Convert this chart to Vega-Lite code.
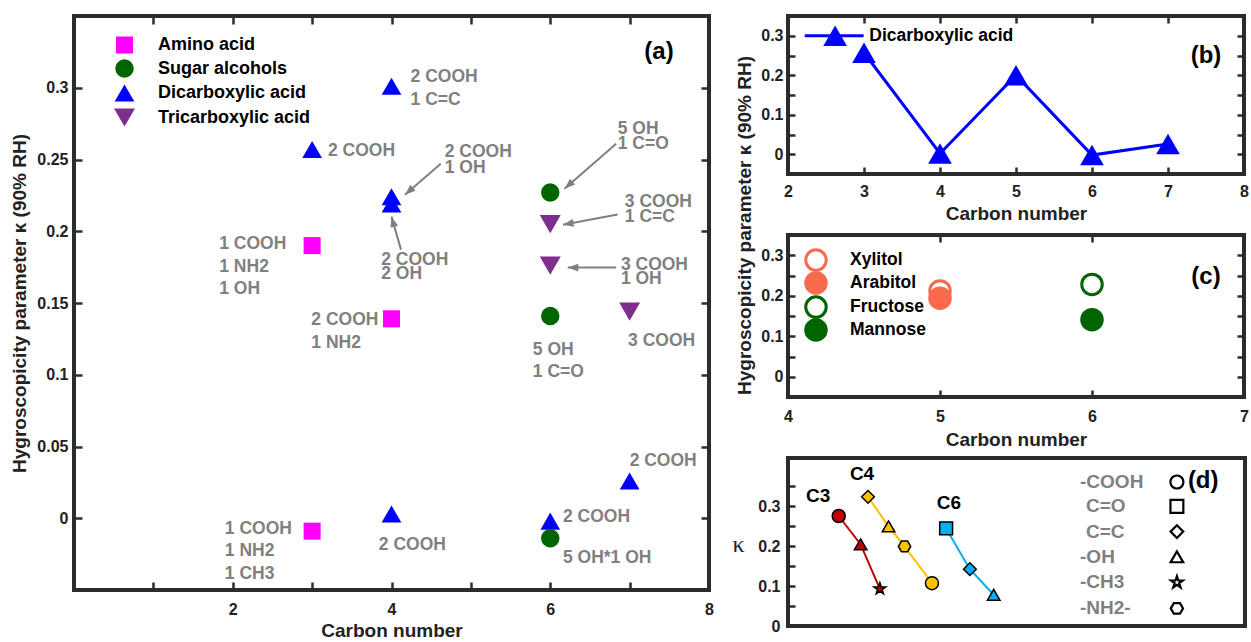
{
  "$schema": "https://vega.github.io/schema/vega-lite/v6.json",
  "background": "white",
  "padding": {"left": 8, "top": 12, "right": 2, "bottom": 1},
  "autosize": {"type": "pad"},
  "bounds": "flush",
  "spacing": 79,
  "config": {
    "font": "Liberation Sans",
    "view": {"stroke": "#2b2b2b", "strokeWidth": 4},
    "axis": {
      "domain": false, "grid": false, "ticks": false, "tickColor": "#2b2b2b", "tickWidth": 2.5, "tickSize": 8,
      "labelFont": "Liberation Sans", "labelFontSize": 16, "labelFontWeight": "bold", "labelColor": "#222222",
      "labelPadding": 6, "labelFlush": false, "labelOverlap": false,
      "titleFont": "Liberation Sans", "titleFontSize": 19, "titleFontWeight": "bold", "titleColor": "#222222"
    },
    "legend": {"labelFont": "Liberation Sans", "labelFontWeight": "bold", "labelFontSize": 18, "labelColor": "black"},
    "text": {"font": "Liberation Sans", "fontWeight": "bold"}
  },
  "resolve": {
    "scale": {"color": "independent", "shape": "independent", "size": "independent", "fill": "independent", "stroke": "independent"},
    "legend": {"color": "independent", "shape": "independent", "size": "independent", "fill": "independent", "stroke": "independent"}
  },
  "hconcat": [
    {
      "width": 635,
      "height": 574,
      "view": {"stroke": "#2b2b2b", "strokeWidth": 4},
      "layer": [
        {
          "data": {"values": [
            {"cat": "Amino acid", "c": 3, "k": 0.19},
            {"cat": "Amino acid", "c": 4, "k": 0.139},
            {"cat": "Amino acid", "c": 3, "k": -0.009},
            {"cat": "Dicarboxylic acid", "c": 4, "k": 0.301},
            {"cat": "Dicarboxylic acid", "c": 3, "k": 0.257},
            {"cat": "Dicarboxylic acid", "c": 4, "k": 0.224},
            {"cat": "Dicarboxylic acid", "c": 4, "k": 0.219},
            {"cat": "Dicarboxylic acid", "c": 4, "k": 0.003},
            {"cat": "Dicarboxylic acid", "c": 6, "k": -0.002},
            {"cat": "Dicarboxylic acid", "c": 7, "k": 0.026},
            {"cat": "Sugar alcohols", "c": 6, "k": 0.227},
            {"cat": "Sugar alcohols", "c": 6, "k": 0.141},
            {"cat": "Sugar alcohols", "c": 6, "k": -0.014},
            {"cat": "Tricarboxylic acid", "c": 6, "k": 0.205},
            {"cat": "Tricarboxylic acid", "c": 6, "k": 0.176},
            {"cat": "Tricarboxylic acid", "c": 7, "k": 0.144}
          ]},
          "mark": {"type": "point", "filled": true, "opacity": 1},
          "encoding": {
            "x": {"field": "c", "type": "quantitative", "scale": {"domain": [0, 8], "nice": false, "zero": false},
                  "axis": {"orient": "bottom", "values": [2, 4, 6, 8], "title": "Carbon number", "labelPadding": 11, "titlePadding": 4}},
            "y": {"field": "k", "type": "quantitative", "scale": {"domain": [-0.05, 0.35], "nice": false, "zero": false},
                  "axis": {"orient": "left", "values": [0, 0.05, 0.1, 0.15, 0.2, 0.25, 0.3], "format": "~g", "title": "Hygroscopicity parameter κ (90% RH)", "titlePadding": 7}},
            "shape": {"field": "cat", "type": "nominal", "scale": {"domain": ["Amino acid", "Sugar alcohols", "Dicarboxylic acid", "Tricarboxylic acid"], "range": ["square", "circle", "triangle-up", "triangle-down"]},
                      "legend": {"orient": "none", "legendX": 40, "legendY": 20, "title": null, "labelOffset": 23, "rowPadding": 5, "symbolStrokeWidth": 0}},
            "color": {"field": "cat", "type": "nominal", "scale": {"domain": ["Amino acid", "Sugar alcohols", "Dicarboxylic acid", "Tricarboxylic acid"], "range": ["#ff00ff", "#006400", "#0000ff", "#7e2f8e"]},
                      "legend": {"orient": "none", "legendX": 40, "legendY": 20, "title": null, "labelOffset": 23, "rowPadding": 5, "symbolStrokeWidth": 0}},
            "size": {"field": "cat", "type": "nominal", "scale": {"domain": ["Amino acid", "Sugar alcohols", "Dicarboxylic acid", "Tricarboxylic acid"], "range": [290, 440, 560, 560]},
                     "legend": {"orient": "none", "legendX": 40, "legendY": 20, "title": null, "labelOffset": 23, "rowPadding": 5, "symbolStrokeWidth": 0}}
          }
        },
        {
          "data": {"values": [{"c": 1, "k": 0}]},
          "mark": {"type": "point", "opacity": 0},
          "encoding": {
            "x": {"field": "c", "type": "quantitative", "axis": {"orient": "top", "offset": -574, "ticks": true, "values": [1, 2, 3, 4, 5, 6, 7], "labels": false, "title": null}},
            "y": {"field": "k", "type": "quantitative", "axis": {"orient": "left", "offset": -635, "ticks": true, "values": [0, 0.05, 0.1, 0.15, 0.2, 0.25, 0.3], "labels": false, "title": null}}
          }
        },
        {
          "data": {"values": [{"c": 1, "k": 0}]},
          "mark": {"type": "point", "opacity": 0},
          "encoding": {
            "x": {"field": "c", "type": "quantitative", "axis": {"orient": "bottom", "offset": -574, "ticks": true, "values": [1, 2, 3, 4, 5, 6, 7], "labels": false, "title": null}},
            "y": {"field": "k", "type": "quantitative", "axis": {"orient": "right", "offset": -635, "ticks": true, "values": [0, 0.05, 0.1, 0.15, 0.2, 0.25, 0.3], "labels": false, "title": null}}
          }
        },
        {
          "data": {"values": [
            {"x1": 4.62, "y1": 0.2471, "x2": 4.17, "y2": 0.2255, "ang": 229},
            {"x1": 6.83, "y1": 0.261, "x2": 6.18, "y2": 0.2297, "ang": 229},
            {"x1": 6.85, "y1": 0.2116, "x2": 6.16, "y2": 0.2046, "ang": 260},
            {"x1": 6.83, "y1": 0.1747, "x2": 6.22, "y2": 0.1747, "ang": 270},
            {"x1": 4.12, "y1": 0.1872, "x2": 4.0, "y2": 0.2102, "ang": 345}
          ]},
          "layer": [
            {
              "mark": {"type": "rule", "color": "#808080", "strokeWidth": 2},
              "encoding": {
                "x": {"field": "x1", "type": "quantitative", "axis": null},
                "y": {"field": "y1", "type": "quantitative", "axis": null},
                "x2": {"field": "x2"},
                "y2": {"field": "y2"}
              }
            },
            {
              "mark": {"type": "point", "shape": "M0,0L0.55,1.5L-0.55,1.5Z", "filled": true, "color": "#808080", "opacity": 1, "size": 200},
              "encoding": {
                "x": {"field": "x2", "type": "quantitative", "axis": null},
                "y": {"field": "y2", "type": "quantitative", "axis": null},
                "angle": {"field": "ang", "type": "quantitative", "scale": null}
              }
            }
          ]
        },
        {
          "data": {"values": [
            {"x": 4.24, "y": 0.3077, "t": "2 COOH"},
            {"x": 4.24, "y": 0.2916, "t": "1 C=C"},
            {"x": 3.2, "y": 0.256, "t": "2 COOH"},
            {"x": 4.67, "y": 0.2555, "t": "2 COOH"},
            {"x": 4.67, "y": 0.2444, "t": "1 OH"},
            {"x": 6.85, "y": 0.2715, "t": "5 OH"},
            {"x": 6.85, "y": 0.261, "t": "1 C=O"},
            {"x": 6.94, "y": 0.2206, "t": "3 COOH"},
            {"x": 6.94, "y": 0.2102, "t": "1 C=C"},
            {"x": 6.89, "y": 0.1768, "t": "3 COOH"},
            {"x": 6.89, "y": 0.1664, "t": "1 OH"},
            {"x": 3.87, "y": 0.18, "t": "2 COOH"},
            {"x": 3.87, "y": 0.17, "t": "2 OH"},
            {"x": 1.83, "y": 0.1914, "t": "1 COOH"},
            {"x": 1.83, "y": 0.1754, "t": "1 NH2"},
            {"x": 1.83, "y": 0.16, "t": "1 OH"},
            {"x": 2.99, "y": 0.1385, "t": "2 COOH"},
            {"x": 2.99, "y": 0.1218, "t": "1 NH2"},
            {"x": 5.78, "y": 0.117, "t": "5 OH"},
            {"x": 5.78, "y": 0.1016, "t": "1 C=O"},
            {"x": 6.98, "y": 0.1232, "t": "3 COOH"},
            {"x": 7.0, "y": 0.0397, "t": "2 COOH"},
            {"x": 6.16, "y": 0.0007, "t": "2 COOH"},
            {"x": 6.16, "y": -0.0278, "t": "5 OH*1 OH"},
            {"x": 3.84, "y": -0.0188, "t": "2 COOH"},
            {"x": 1.9, "y": -0.0077, "t": "1 COOH"},
            {"x": 1.9, "y": -0.023, "t": "1 NH2"},
            {"x": 1.9, "y": -0.039, "t": "1 CH3"}
          ]},
          "mark": {"type": "text", "align": "left", "baseline": "middle", "fontSize": 17.5, "color": "#808080"},
          "encoding": {
            "x": {"field": "x", "type": "quantitative", "axis": null},
            "y": {"field": "y", "type": "quantitative", "axis": null},
            "text": {"field": "t"}
          }
        },
        {
          "data": {"values": [{"x": 7.37, "y": 0.325, "t": "(a)"}]},
          "mark": {"type": "text", "align": "center", "baseline": "middle", "fontSize": 24, "color": "black"},
          "encoding": {
            "x": {"field": "x", "type": "quantitative", "axis": null},
            "y": {"field": "y", "type": "quantitative", "axis": null},
            "text": {"field": "t"}
          }
        }
      ],
      "resolve": {"axis": {"x": "independent", "y": "independent"}}
    },
    {
      "bounds": "flush",
      "spacing": 61,
      "resolve": {
        "scale": {"color": "independent", "shape": "independent", "size": "independent", "fill": "independent", "stroke": "independent"},
        "legend": {"color": "independent", "shape": "independent", "size": "independent", "fill": "independent", "stroke": "independent"}
      },
      "vconcat": [
        {
          "width": 456,
          "height": 158,
          "view": {"stroke": "#2b2b2b", "strokeWidth": 4},
          "data": {"values": [{"c": 3, "k": 0.257}, {"c": 4, "k": 0.002}, {"c": 5, "k": 0.2}, {"c": 6, "k": -0.002}, {"c": 7, "k": 0.026}]},
          "layer": [
            {
              "mark": {"type": "line", "color": "#0000ff", "strokeWidth": 3},
              "encoding": {
                "x": {"field": "c", "type": "quantitative", "scale": {"domain": [2, 8], "nice": false, "zero": false},
                      "axis": {"orient": "bottom", "values": [2, 3, 4, 5, 6, 7, 8], "title": "Carbon number", "labelPadding": 9, "titlePadding": 5}},
                "y": {"field": "k", "type": "quantitative", "scale": {"domain": [-0.05, 0.35], "nice": false, "zero": false},
                      "axis": {"orient": "left", "values": [0, 0.1, 0.2, 0.3], "format": "~g", "title": null, "labelPadding": 5}}
              }
            },
            {
              "mark": {"type": "point", "shape": "triangle-up", "filled": true, "color": "#0000ff", "opacity": 1, "size": 560},
              "encoding": {
                "x": {"field": "c", "type": "quantitative", "axis": null},
                "y": {"field": "k", "type": "quantitative", "axis": null}
              }
            },
            {
              "data": {"values": [{"c": 3, "k": 0}]},
              "mark": {"type": "point", "opacity": 0},
              "encoding": {
                "x": {"field": "c", "type": "quantitative", "axis": {"orient": "top", "offset": -158, "ticks": true, "tickSize": 7, "values": [3, 4, 5, 6, 7], "labels": false, "title": null}},
                "y": {"field": "k", "type": "quantitative", "axis": {"orient": "left", "offset": -456, "ticks": true, "tickSize": 7, "values": [0, 0.05, 0.1, 0.15, 0.2, 0.25, 0.3], "labels": false, "title": null}}
              }
            },
            {
              "data": {"values": [{"c": 3, "k": 0}]},
              "mark": {"type": "point", "opacity": 0},
              "encoding": {
                "x": {"field": "c", "type": "quantitative", "axis": {"orient": "bottom", "offset": -158, "ticks": true, "tickSize": 7, "values": [3, 4, 5, 6, 7], "labels": false, "title": null}},
                "y": {"field": "k", "type": "quantitative", "axis": {"orient": "right", "offset": -456, "ticks": true, "tickSize": 7, "values": [0, 0.05, 0.1, 0.15, 0.2, 0.25, 0.3], "labels": false, "title": null}}
              }
            },
            {
              "data": {"values": [{"c": 2.22, "k": 0.3}, {"c": 2.995, "k": 0.3}]},
              "mark": {"type": "line", "color": "#0000ff", "strokeWidth": 3},
              "encoding": {
                "x": {"field": "c", "type": "quantitative", "axis": null},
                "y": {"field": "k", "type": "quantitative", "axis": null}
              }
            },
            {
              "data": {"values": [{"c": 2.62, "k": 0.3}]},
              "mark": {"type": "point", "shape": "triangle-up", "filled": true, "color": "#0000ff", "opacity": 1, "size": 560},
              "encoding": {
                "x": {"field": "c", "type": "quantitative", "axis": null},
                "y": {"field": "k", "type": "quantitative", "axis": null}
              }
            },
            {
              "data": {"values": [{"c": 3.07, "k": 0.3, "t": "Dicarboxylic acid"}]},
              "mark": {"type": "text", "align": "left", "baseline": "middle", "fontSize": 17.5, "color": "black"},
              "encoding": {
                "x": {"field": "c", "type": "quantitative", "axis": null},
                "y": {"field": "k", "type": "quantitative", "axis": null},
                "text": {"field": "t"}
              }
            },
            {
              "data": {"values": [{"c": 7.5, "k": 0.249, "t": "(b)"}]},
              "mark": {"type": "text", "align": "center", "baseline": "middle", "fontSize": 24, "color": "black"},
              "encoding": {
                "x": {"field": "c", "type": "quantitative", "axis": null},
                "y": {"field": "k", "type": "quantitative", "axis": null},
                "text": {"field": "t"}
              }
            }
          ],
          "resolve": {"axis": {"x": "independent", "y": "independent"}}
        },
        {
          "width": 456,
          "height": 162,
          "view": {"stroke": "#2b2b2b", "strokeWidth": 4},
          "layer": [
            {
              "data": {"values": [
                {"n": "Fructose", "c": 6, "k": 0.228},
                {"n": "Xylitol", "c": 5, "k": 0.212},
                {"n": "Arabitol", "c": 5, "k": 0.194},
                {"n": "Mannose", "c": 6, "k": 0.141}
              ]},
              "mark": {"type": "point", "shape": "circle", "filled": true, "opacity": 1, "size": 420, "strokeWidth": 3},
              "encoding": {
                "x": {"field": "c", "type": "quantitative", "scale": {"domain": [4, 7], "nice": false, "zero": false},
                      "axis": {"orient": "bottom", "values": [4, 5, 6, 7], "title": "Carbon number", "labelPadding": 11, "titlePadding": 6}},
                "y": {"field": "k", "type": "quantitative", "scale": {"domain": [-0.05, 0.35], "nice": false, "zero": false},
                      "axis": {"orient": "left", "values": [0, 0.1, 0.2, 0.3], "format": "~g", "labelPadding": 5, "title": "Hygroscopicity parameter κ (90% RH)", "titleY": -10, "titlePadding": 6}},
                "stroke": {"field": "n", "type": "nominal", "scale": {"domain": ["Xylitol", "Arabitol", "Fructose", "Mannose"], "range": ["#fa6a4c", "#fa6a4c", "#006400", "#006400"]}, "legend": null},
                "fill": {"field": "n", "type": "nominal", "scale": {"domain": ["Xylitol", "Arabitol", "Fructose", "Mannose"], "range": ["white", "#fa6a4c", "white", "#006400"]}, "legend": null}
              }
            },
            {
              "data": {"values": [{"c": 5, "k": 0}]},
              "mark": {"type": "point", "opacity": 0},
              "encoding": {
                "x": {"field": "c", "type": "quantitative", "axis": {"orient": "top", "offset": -162, "ticks": true, "tickSize": 7, "values": [5, 6], "labels": false, "title": null}},
                "y": {"field": "k", "type": "quantitative", "axis": {"orient": "left", "offset": -456, "ticks": true, "tickSize": 7, "values": [0, 0.05, 0.1, 0.15, 0.2, 0.25, 0.3], "labels": false, "title": null}}
              }
            },
            {
              "data": {"values": [{"c": 5, "k": 0}]},
              "mark": {"type": "point", "opacity": 0},
              "encoding": {
                "x": {"field": "c", "type": "quantitative", "axis": {"orient": "bottom", "offset": -162, "ticks": true, "tickSize": 7, "values": [5, 6], "labels": false, "title": null}},
                "y": {"field": "k", "type": "quantitative", "axis": {"orient": "right", "offset": -456, "ticks": true, "tickSize": 7, "values": [0, 0.05, 0.1, 0.15, 0.2, 0.25, 0.3], "labels": false, "title": null}}
              }
            },
            {
              "data": {"values": [
                {"n": "Xylitol", "sx": 4.184, "lx": 4.408, "k": 0.288},
                {"n": "Arabitol", "sx": 4.184, "lx": 4.408, "k": 0.2315},
                {"n": "Fructose", "sx": 4.184, "lx": 4.408, "k": 0.172},
                {"n": "Mannose", "sx": 4.184, "lx": 4.408, "k": 0.1154}
              ]},
              "layer": [
                {
                  "mark": {"type": "point", "shape": "circle", "filled": true, "opacity": 1, "size": 420, "strokeWidth": 3},
                  "encoding": {
                    "x": {"field": "sx", "type": "quantitative", "axis": null},
                    "y": {"field": "k", "type": "quantitative", "axis": null},
                    "stroke": {"field": "n", "type": "nominal", "legend": null},
                    "fill": {"field": "n", "type": "nominal", "legend": null}
                  }
                },
                {
                  "mark": {"type": "text", "align": "left", "baseline": "middle", "fontSize": 17.5, "color": "black"},
                  "encoding": {
                    "x": {"field": "lx", "type": "quantitative", "axis": null},
                    "y": {"field": "k", "type": "quantitative", "axis": null},
                    "text": {"field": "n"}
                  }
                }
              ]
            },
            {
              "data": {"values": [{"c": 6.75, "k": 0.2475, "t": "(c)"}]},
              "mark": {"type": "text", "align": "center", "baseline": "middle", "fontSize": 24, "color": "black"},
              "encoding": {
                "x": {"field": "c", "type": "quantitative", "axis": null},
                "y": {"field": "k", "type": "quantitative", "axis": null},
                "text": {"field": "t"}
              }
            }
          ],
          "resolve": {"axis": {"x": "independent", "y": "independent"}}
        },
        {
          "width": 457,
          "height": 168,
          "view": {"stroke": "#2b2b2b", "strokeWidth": 4},
          "layer": [
            {
              "data": {"values": [
                {"chain": "C3", "g": "-COOH", "x": 11.1, "k": 0.275},
                {"chain": "C3", "g": "-OH", "x": 15.9, "k": 0.204},
                {"chain": "C3", "g": "-CH3", "x": 20.1, "k": 0.093},
                {"chain": "C4", "g": "C=C", "x": 17.5, "k": 0.323},
                {"chain": "C4", "g": "-OH", "x": 22.0, "k": 0.249},
                {"chain": "C4", "g": "-NH2-", "x": 25.5, "k": 0.199},
                {"chain": "C4", "g": "-COOH", "x": 31.5, "k": 0.107},
                {"chain": "C6", "g": "C=O", "x": 34.6, "k": 0.244},
                {"chain": "C6", "g": "C=C", "x": 39.8, "k": 0.142},
                {"chain": "C6", "g": "-OH", "x": 45.0, "k": 0.078}
              ]},
              "layer": [
                {
                  "mark": {"type": "line", "strokeWidth": 2},
                  "encoding": {
                    "x": {"field": "x", "type": "quantitative", "scale": {"domain": [0, 100], "nice": false, "zero": false}, "axis": null},
                    "y": {"field": "k", "type": "quantitative", "scale": {"domain": [0, 0.42], "nice": false, "zero": false},
                          "axis": {"orient": "left", "values": [0, 0.1, 0.2, 0.3], "format": "~g", "labelPadding": 8,
                                   "title": "κ", "titleFont": "Liberation Serif", "titleFontWeight": "normal", "titleFontSize": 24, "titleAngle": 0, "titleAlign": "center", "titleBaseline": "middle", "titleX": -50, "titleY": 86}},
                    "color": {"field": "chain", "type": "nominal", "scale": {"domain": ["C3", "C4", "C6"], "range": ["#c00000", "#ffc000", "#00b0f0"]}, "legend": null}
                  }
                },
                {
                  "mark": {"type": "point", "filled": true, "opacity": 1, "stroke": "black", "strokeWidth": 1.5},
                  "encoding": {
                    "x": {"field": "x", "type": "quantitative"},
                    "y": {"field": "k", "type": "quantitative"},
                    "fill": {"field": "chain", "type": "nominal", "scale": {"domain": ["C3", "C4", "C6"], "range": ["#c00000", "#ffc000", "#00b0f0"]}, "legend": null},
                    "shape": {"field": "g", "type": "nominal", "scale": {"domain": ["-COOH", "C=O", "C=C", "-OH", "-CH3", "-NH2-"], "range": ["circle", "square", "diamond", "triangle-up", "M0,-1L0.225,-0.309L0.951,-0.309L0.363,0.118L0.588,0.809L0,0.382L-0.588,0.809L-0.363,0.118L-0.951,-0.309L-0.225,-0.309Z", "M-1,0L-0.5,-0.866L0.5,-0.866L1,0L0.5,0.866L-0.5,0.866Z"]}, "legend": null},
                    "size": {"field": "g", "type": "nominal", "scale": {"domain": ["-COOH", "C=O", "C=C", "-OH", "-CH3", "-NH2-"], "range": [170, 150, 190, 260, 260, 220]}, "legend": null}
                  }
                }
              ]
            },
            {
              "data": {"values": [{"x": 1, "k": 0.1}]},
              "mark": {"type": "point", "opacity": 0},
              "encoding": {
                "x": {"field": "x", "type": "quantitative"},
                "y": {"field": "k", "type": "quantitative", "axis": {"orient": "right", "offset": -457, "ticks": true, "tickSize": 7, "values": [0.05, 0.1, 0.15, 0.2, 0.25, 0.3, 0.35], "labels": false, "title": null}}
              }
            },
            {
              "data": {"values": [
                {"g": "-COOH", "lx": 63.9, "sx": 85.1, "k": 0.36},
                {"g": "C=O", "lx": 65.2, "sx": 85.1, "k": 0.299},
                {"g": "C=C", "lx": 65.2, "sx": 85.1, "k": 0.236},
                {"g": "-OH", "lx": 63.9, "sx": 85.1, "k": 0.173},
                {"g": "-CH3", "lx": 63.9, "sx": 85.1, "k": 0.109},
                {"g": "-NH2-", "lx": 63.9, "sx": 85.1, "k": 0.044}
              ]},
              "layer": [
                {
                  "mark": {"type": "text", "align": "left", "baseline": "middle", "fontSize": 19, "color": "#808080"},
                  "encoding": {
                    "x": {"field": "lx", "type": "quantitative"},
                    "y": {"field": "k", "type": "quantitative", "axis": null},
                    "text": {"field": "g"}
                  }
                },
                {
                  "mark": {"type": "point", "filled": true, "fill": "white", "opacity": 1, "stroke": "black", "strokeWidth": 2.2},
                  "encoding": {
                    "x": {"field": "sx", "type": "quantitative"},
                    "y": {"field": "k", "type": "quantitative", "axis": null},
                    "shape": {"field": "g", "type": "nominal"},
                    "size": {"field": "g", "type": "nominal"}
                  }
                }
              ]
            },
            {
              "data": {"values": [
                {"x": 6.6, "k": 0.325, "t": "C3"},
                {"x": 16.2, "k": 0.379, "t": "C4"},
                {"x": 35.2, "k": 0.307, "t": "C6"}
              ]},
              "mark": {"type": "text", "align": "center", "baseline": "middle", "fontSize": 19, "color": "black"},
              "encoding": {
                "x": {"field": "x", "type": "quantitative"},
                "y": {"field": "k", "type": "quantitative", "axis": null},
                "text": {"field": "t"}
              }
            },
            {
              "data": {"values": [{"x": 87.5, "k": 0.362, "t": "(d)"}]},
              "mark": {"type": "text", "align": "left", "baseline": "middle", "fontSize": 24, "color": "black"},
              "encoding": {
                "x": {"field": "x", "type": "quantitative"},
                "y": {"field": "k", "type": "quantitative", "axis": null},
                "text": {"field": "t"}
              }
            }
          ],
          "resolve": {"axis": {"y": "independent"}}
        }
      ]
    }
  ]
}
